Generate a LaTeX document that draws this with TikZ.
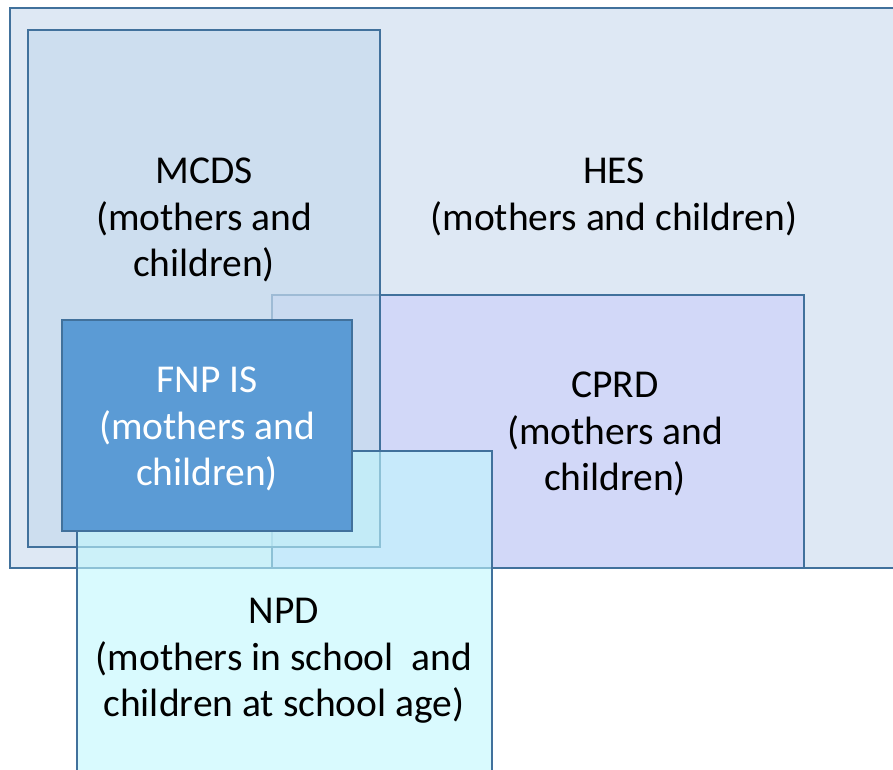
\documentclass[tikz,border=0pt]{standalone}
\usepackage{fontspec}
\setmainfont{Carlito}
\definecolor{edgeblue}{HTML}{41719C}
\definecolor{hesfill}{HTML}{DEE8F4}
\definecolor{mcdsfill}{RGB}{198,219,238}
\definecolor{cprdfill}{RGB}{205,210,250}
\definecolor{npdfill}{RGB}{192,247,253}
\definecolor{fnpfill}{HTML}{5B9BD5}
\begin{document}
\begin{tikzpicture}[x=1pt,y=-1pt,
    setbox/.style={draw=edgeblue,line width=1.8pt},
    setlabel/.style={align=center,font=\fontsize{39.5}{46.5}\selectfont,inner sep=0pt}]
  \useasboundingbox (0,0) rectangle (893,769);
  \clip (0,0) rectangle (893,769);
  % the data sources, back to front
  \draw[setbox,fill=hesfill] (10,8) rectangle (900,568);
  \draw[setbox,fill=cprdfill,fill opacity=0.7] (272,295) rectangle (804,568);
  \draw[setbox,fill=mcdsfill,fill opacity=0.7] (28,30) rectangle (380,547);
  \draw[setbox,fill=npdfill,fill opacity=0.6] (77,451) rectangle (492,780);
  \draw[setbox,fill=fnpfill] (62,320) rectangle (352,531);
  % labels
  \node[setlabel] (hes) at (614,197) {HES\\(mothers and children)};
  \node[setlabel] (mcds) at (204,220) {MCDS\\(mothers and\\children)};
  \node[setlabel] (cprd) at (615,434) {CPRD\\(mothers and\\children)};
  \node[setlabel,text=white] (fnp) at (207,429) {FNP IS\\(mothers and\\children)};
  \node[setlabel] (npd) at (284,661) {NPD\\(mothers in school~ and\\children at school age)};
\end{tikzpicture}
\end{document}
